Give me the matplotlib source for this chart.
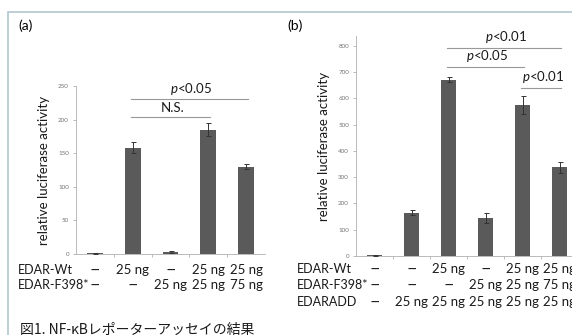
import numpy as np
import matplotlib
matplotlib.use("Agg")
import matplotlib.pyplot as plt
import matplotlib.transforms as mtransforms
from matplotlib.patches import Rectangle

plt.rcParams['font.family'] = ['Lato', 'Noto Sans CJK JP', 'DejaVu Sans']
plt.rcParams['mathtext.fontset'] = 'custom'
plt.rcParams['mathtext.it'] = 'Lato:italic'
plt.rcParams['mathtext.rm'] = 'Lato'

# ---- DATA ----
# panel (a)
a_values = [1, 158, 3, 185, 130]
a_errors = [0.5, 8, 0.8, 10, 4]
a_wt = ["—", "25 ng", "—", "25 ng", "25 ng"]
a_f398 = ["—", "—", "25 ng", "25 ng", "75 ng"]
a_yticks = [0, 50, 100, 150, 200, 250]
a_sig = [(1, 4, 230, "p<0.05"), (1, 3, 204, "N.S.")]

# panel (b)
b_values = [2, 165, 672, 145, 575, 338]
b_errors = [1, 10, 8, 18, 35, 20]
b_wt = ["—", "—", "25 ng", "—", "25 ng", "25 ng"]
b_f398 = ["—", "—", "—", "25 ng", "25 ng", "75 ng"]
b_edaradd = ["—", "25 ng", "25 ng", "25 ng", "25 ng", "25 ng"]
b_yticks = [0, 100, 200, 300, 400, 500, 600, 700, 800]
b_sig = [(2, 5, 792, "p<0.01"), (2, 4, 720, "p<0.05"), (4, 5, 640, "p<0.01")]

W, H = 572, 335
BAR = "#5a5a5a"
AXC = "#b0b0b0"
TXT = "#1a1a1a"


def px(x0, y0, w, h):
    # pixel box (top-left origin) -> figure fraction
    return [x0 / W, 1 - (y0 + h) / H, w / W, h / H]


def draw_panel(ax, values, errors, yticks, ytop, sigs, ytxt_off):
    x = np.arange(len(values))
    ax.bar(x, values, width=0.42, color=BAR, zorder=2)
    ax.errorbar(x, values, yerr=errors, fmt="none", ecolor="#333333",
                elinewidth=0.7, capsize=1.8, capthick=0.7, zorder=3)
    ax.set_xlim(-0.5, len(values) - 0.5)
    ax.set_ylim(0, ytop)
    ax.set_yticks(yticks)
    ax.tick_params(axis="y", labelsize=4.5, labelcolor="#777777",
                   color=AXC, length=2, width=0.6, pad=3)
    ax.set_xticks(np.arange(len(values) - 1) + 0.5)
    ax.set_xticklabels([])
    ax.tick_params(axis="x", color=AXC, length=2, width=0.6)
    for s in ["top", "right"]:
        ax.spines[s].set_visible(False)
    for s in ["left", "bottom"]:
        ax.spines[s].set_color(AXC)
        ax.spines[s].set_linewidth(0.6)
    ax.set_ylabel("relative luciferase activity", fontsize=9.5,
                  color=TXT, labelpad=6)
    for i0, i1, y, lab in sigs:
        ax.plot([i0 - 0.05, i1 + 0.05], [y, y], color="#999999", lw=0.8,
                clip_on=False, zorder=1)
        if lab.startswith("p"):
            s = r"$\it{p}$<" + lab[2:]
        else:
            s = lab
        ax.text((i0 + i1) / 2 + 0.05, y + ytxt_off, s, ha="center",
                va="bottom", fontsize=9.5, color=TXT, clip_on=False)


def draw_rows(fig, ax, rows, names, xname, ys):
    trans = mtransforms.blended_transform_factory(ax.transData, fig.transFigure)
    for row, name, yp in zip(rows, names, ys):
        yf = 1 - yp / H
        fig.text(xname / W, yf, name, ha="left", va="center", fontsize=9,
                 color=TXT)
        for i, t in enumerate(row):
            if t == "—":
                ax.text(i, yf, t, transform=trans, ha="center", va="center",
                        fontsize=6, fontweight="bold", color=TXT,
                        family=["DejaVu Sans"], clip_on=False)
            else:
                ax.text(i, yf, t, transform=trans, ha="center", va="center",
                        fontsize=9.5, color=TXT, clip_on=False)


fig = plt.figure(figsize=(W / 100, H / 100), dpi=100)

# frame around the figure
fig.patches.append(Rectangle((8 / W, -0.1), 1.2, 1 - 12 / H + 0.1,
                             transform=fig.transFigure, fill=False,
                             edgecolor="#b3c6cf", lw=1.2))

ax_a = fig.add_axes(px(76, 86, 189, 168))
draw_panel(ax_a, a_values, a_errors, a_yticks, 250, a_sig, 4)
draw_rows(fig, ax_a, [a_wt, a_f398], ["EDAR-Wt", "EDAR-F398*"], 18, [270, 285])

ax_b = fig.add_axes(px(356, 36, 222, 220))
draw_panel(ax_b, b_values, b_errors, b_yticks, 838, b_sig, 12)
draw_rows(fig, ax_b, [b_wt, b_f398, b_edaradd],
          ["EDAR-Wt", "EDAR-F398*", "EDARADD"], 297, [269, 285, 302])

fig.text(18 / W, 1 - 26 / H, "(a)", fontsize=10, va="center")
fig.text(287 / W, 1 - 26 / H, "(b)", fontsize=10, va="center")

fig.text(20 / W, 1 - 330 / H, "図1. NF-κBレポーターアッセイの結果",
         fontsize=10, va="center", color=TXT,
         family=['Noto Sans CJK JP', 'DejaVu Sans'])

fig.savefig("out.png", dpi=100)
